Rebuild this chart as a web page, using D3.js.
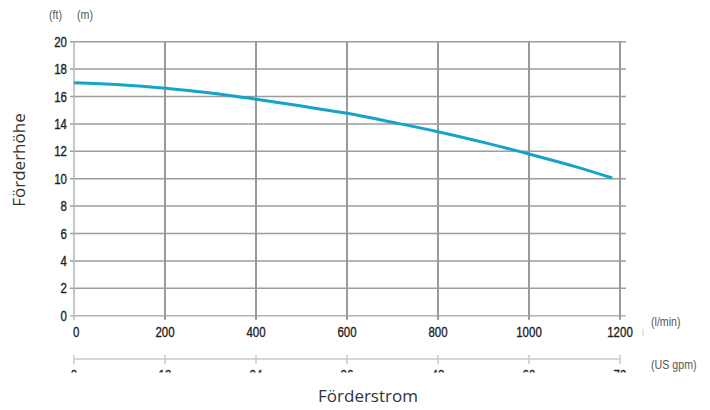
<!DOCTYPE html>
<html>
<head>
<meta charset="utf-8">
<script src="https://cdn.jsdelivr.net/npm/d3@7"></script>
<style>
body { margin: 0; background: #fff; }
svg { display: block; }
</style>
</head>
<body>
<div id="chart"></div>
<script>
// pump curve: Förderstrom (l/min) vs Förderhöhe (m)
const flowLmin = [0, 100, 200, 300, 400, 500, 600, 700, 800, 900, 1000, 1100, 1183];
const headM = [17.0, 16.85, 16.6, 16.25, 15.8, 15.3, 14.77, 14.12, 13.43, 12.65, 11.8, 10.9, 10.05];
const xTicks = [0, 200, 400, 600, 800, 1000, 1200];
const yTicks = [0, 2, 4, 6, 8, 10, 12, 14, 16, 18, 20];
const secondTicks = [0, 12, 24, 36, 48, 60, 72];

const width = 710, height = 410;
const narrow = "'Liberation Sans', Arial, sans-serif";
const humanist = "'Open Sans', 'Noto Sans', sans-serif";
const squeeze = 0.82; // condensed look for tick labels

const svg = d3.select("#chart").append("svg")
    .attr("width", width)
    .attr("height", height);

const x = d3.scaleLinear().domain([0, 1200]).range([74, 620]);
const y = d3.scaleLinear().domain([0, 20]).range([315.7, 41.7]);
const x2 = d3.scaleLinear().domain([0, 72]).range([74, 620]);

// helper for squeezed text
function tickText(sel, fx, fy) {
    return sel.attr("transform", d => "translate(" + fx(d) + "," + fy(d) + ") scale(" + squeeze + ",1)")
        .attr("font-family", narrow)
        .attr("font-size", 14)
        .attr("fill", "#1e1e1e")
        .attr("stroke", "#1e1e1e")
        .attr("stroke-width", 0.35)
        .text(d => d);
}

// horizontal grid
svg.append("g").selectAll("line")
    .data(yTicks)
    .enter().append("line")
    .attr("x1", 70).attr("x2", 626)
    .attr("y1", d => y(d)).attr("y2", d => y(d))
    .attr("stroke", d => d === 0 ? "#b4b4b4" : "#9d9d9d")
    .attr("stroke-width", 1.5);

// vertical grid
svg.append("g").selectAll("line")
    .data(xTicks)
    .enter().append("line")
    .attr("x1", d => x(d)).attr("x2", d => x(d))
    .attr("y1", y(20)).attr("y2", y(0) + 4)
    .attr("stroke", d => d === 0 ? "#b4b4b4" : "#9a9a9a")
    .attr("stroke-width", d => d === 0 ? 1.5 : 2);

// y labels
tickText(svg.append("g").selectAll("text")
    .data(yTicks)
    .enter().append("text")
    .attr("text-anchor", "end"), d => 67, d => y(d) + 5);

// x labels
tickText(svg.append("g").selectAll("text")
    .data(xTicks)
    .enter().append("text")
    .attr("text-anchor", d => d === 0 ? "start" : "middle"), d => d === 0 ? x(d) - 1 : x(d), d => 337);

// second axis (cut off at the bottom)
svg.append("defs").append("clipPath").attr("id", "cut")
    .append("rect").attr("x", 0).attr("y", 0).attr("width", width).attr("height", 372.5);

const ax2 = svg.append("g").attr("clip-path", "url(#cut)");
ax2.append("line")
    .attr("x1", x2(0)).attr("x2", x2(72))
    .attr("y1", 359).attr("y2", 359)
    .attr("stroke", "#c8c8c8").attr("stroke-width", 1.5);
ax2.selectAll("line.t")
    .data(secondTicks)
    .enter().append("line")
    .attr("class", "t")
    .attr("x1", d => x2(d)).attr("x2", d => x2(d))
    .attr("y1", 355).attr("y2", 364)
    .attr("stroke", "#c8c8c8").attr("stroke-width", 1.5);
tickText(ax2.selectAll("text")
    .data(secondTicks)
    .enter().append("text")
    .attr("text-anchor", "middle"), d => x2(d), d => 380);

// small stray mark next to 1200
svg.append("line")
    .attr("x1", 643).attr("x2", 643)
    .attr("y1", 329).attr("y2", 336)
    .attr("stroke", "#d0d0d0").attr("stroke-width", 1);

// curve
const line = d3.line()
    .x((d, i) => x(flowLmin[i]))
    .y(d => y(d))
    .curve(d3.curveMonotoneX);

svg.append("path")
    .datum(headM)
    .attr("d", line)
    .attr("fill", "none")
    .attr("stroke", "#14a3c9")
    .attr("stroke-width", 3);

// unit labels
const units = [
    { t: "(ft)", x: 49, y: 19 },
    { t: "(m)", x: 77, y: 19 },
    { t: "(l/min)", x: 651, y: 326 },
    { t: "(US gpm)", x: 651, y: 369 }
];
svg.append("g").selectAll("text")
    .data(units)
    .enter().append("text")
    .attr("transform", d => "translate(" + d.x + "," + d.y + ") scale(" + squeeze + ",1)")
    .attr("font-family", narrow)
    .attr("font-size", 13)
    .attr("fill", "#555")
    .text(d => d.t);

// axis titles
svg.append("text")
    .attr("transform", "translate(25,160) rotate(-90)")
    .attr("text-anchor", "middle")
    .attr("font-family", humanist)
    .attr("font-size", 17)
    .attr("fill", "#333")
    .text("Förderhöhe");

svg.append("text")
    .attr("x", 368)
    .attr("y", 402)
    .attr("text-anchor", "middle")
    .attr("font-family", humanist)
    .attr("font-size", 17)
    .attr("fill", "#333")
    .text("Förderstrom");
</script>
</body>
</html>
